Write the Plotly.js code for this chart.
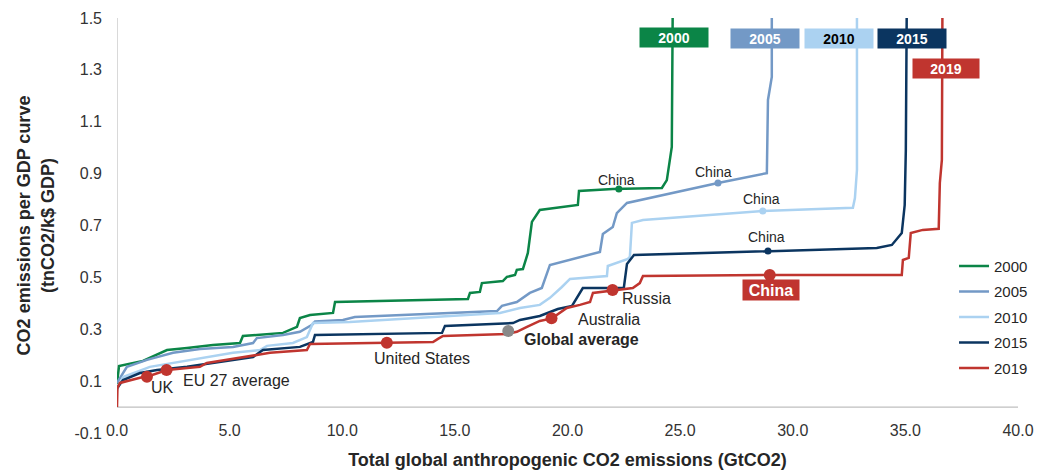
<!DOCTYPE html>
<html>
<head>
<meta charset="utf-8">
<script src="https://cdn.plot.ly/plotly-3.0.1.min.js"></script>
<style>
html,body{margin:0;padding:0;background:#fff;}
#chart{width:1048px;height:470px;}
</style>
</head>
<body>
<div id="chart"></div>
<script>
// ---- data: cumulative emissions (GtCO2) vs intensity (tnCO2/k$ GDP) ----
var x2000 = [0, 0.09, 1.15, 1.78, 2.22, 3.11, 4.26, 5.46, 5.59, 6.21, 7.37, 7.99, 8.12, 8.57, 9.59, 9.68, 15.58, 15.67, 16.11, 16.20, 17.13, 17.31, 17.67, 17.75, 18.02, 18.24, 18.42, 18.77, 20.46, 20.51, 22.01, 24.19, 24.41, 24.63, 24.68];
var y2000 = [0.09, 0.158, 0.178, 0.201, 0.220, 0.228, 0.239, 0.247, 0.274, 0.278, 0.286, 0.309, 0.343, 0.355, 0.363, 0.405, 0.417, 0.440, 0.444, 0.478, 0.486, 0.502, 0.509, 0.529, 0.532, 0.594, 0.714, 0.760, 0.779, 0.833, 0.841, 0.845, 0.875, 1.003, 1.65];

var x2005 = [0, 0.44, 1.33, 2.49, 3.68, 5.15, 6.04, 6.21, 7.37, 8.12, 8.66, 8.79, 10.03, 10.56, 16.87, 17.09, 17.75, 18.33, 18.86, 19.22, 21.44, 21.57, 22.01, 22.19, 22.64, 26.68, 28.85, 28.90, 29.07, 29.07];
var y2005 = [0.093, 0.155, 0.182, 0.209, 0.224, 0.232, 0.247, 0.266, 0.278, 0.290, 0.317, 0.330, 0.336, 0.347, 0.370, 0.390, 0.405, 0.440, 0.459, 0.548, 0.598, 0.667, 0.694, 0.748, 0.787, 0.864, 0.902, 1.184, 1.273, 1.65];

var x2010 = [0, 0.27, 1.46, 2.49, 3.68, 5.15, 6.35, 6.66, 7.81, 8.43, 8.70, 10.34, 17.00, 17.89, 18.77, 19.22, 19.75, 20.11, 21.75, 21.79, 22.68, 22.77, 22.86, 23.35, 28.67, 32.67, 32.76, 32.85, 32.85];
var y2010 = [0.066, 0.116, 0.155, 0.170, 0.189, 0.209, 0.220, 0.236, 0.247, 0.270, 0.324, 0.328, 0.363, 0.382, 0.394, 0.421, 0.463, 0.494, 0.505, 0.544, 0.571, 0.579, 0.710, 0.721, 0.756, 0.768, 0.806, 0.914, 1.65];

var x2015 = [0, 0.27, 1.02, 1.78, 3.11, 5.15, 6.04, 6.48, 8.12, 8.70, 8.79, 14.43, 14.56, 17.58, 17.89, 18.77, 19.57, 20.20, 20.42, 20.68, 22.50, 22.64, 22.95, 28.90, 33.73, 34.40, 34.84, 34.97, 35.02, 35.07];
var y2015 = [0.073, 0.104, 0.131, 0.143, 0.155, 0.182, 0.193, 0.220, 0.232, 0.251, 0.278, 0.286, 0.313, 0.324, 0.336, 0.351, 0.378, 0.390, 0.424, 0.459, 0.459, 0.552, 0.586, 0.602, 0.613, 0.625, 0.671, 0.779, 0.991, 1.65];

var x2019 = [0, 0.02, 0.13, 1.15, 1.33, 2.22, 3.68, 3.99, 4.88, 5.33, 6.79, 8.43, 8.57, 11.98, 14.03, 14.25, 14.47, 17.31, 17.75, 18.20, 18.77, 19.31, 19.66, 19.97, 20.55, 21.00, 21.13, 21.88, 22.01, 22.90, 23.21, 23.35, 28.98, 34.84, 34.89, 35.15, 35.24, 35.77, 36.48, 36.53, 36.62, 36.65];
var y2019 = [0.0, 0.074, 0.093, 0.116, 0.117, 0.143, 0.155, 0.170, 0.182, 0.189, 0.209, 0.220, 0.243, 0.248, 0.251, 0.263, 0.274, 0.282, 0.290, 0.309, 0.332, 0.342, 0.363, 0.382, 0.394, 0.405, 0.440, 0.448, 0.451, 0.459, 0.478, 0.505, 0.509, 0.509, 0.567, 0.575, 0.671, 0.683, 0.687, 0.864, 0.953, 1.65];

var years = ['2000', '2005', '2010', '2015', '2019'];
var colors = ['#0B8547', '#7399C6', '#ABD2F1', '#0B3560', '#C0352F'];

// China position on each year's curve (2000-2015, small dots)
var chinaX = [22.28, 26.68, 28.67, 28.90];
var chinaY = [0.841, 0.864, 0.756, 0.602];

// highlighted countries on the 2019 curve
var countryNames = ['UK', 'EU 27 average', 'United States', 'Australia', 'Russia', 'China'];
var countryX = [1.33, 2.20, 11.98, 19.29, 22.00, 28.98];
var countryY = [0.117, 0.143, 0.248, 0.342, 0.451, 0.509];

var globalAvgX = [17.37];
var globalAvgY = [0.293];

var xTicks = [0, 5, 10, 15, 20, 25, 30, 35, 40];
var yTicks = [-0.1, 0.1, 0.3, 0.5, 0.7, 0.9, 1.1, 1.3, 1.5];

// ---- traces ----
var FONT = 'Liberation Sans, Arial, sans-serif';
var xs = [x2000, x2005, x2010, x2015, x2019];
var ys = [y2000, y2005, y2010, y2015, y2019];
var traces = [];
for (var i = 0; i < years.length; i++) {
  traces.push({
    x: xs[i], y: ys[i], type: 'scatter', mode: 'lines', name: years[i],
    legendgroup: years[i],
    line: {color: colors[i], width: 2.5}, hoverinfo: 'skip'
  });
}
traces.push({
  x: chinaX, y: chinaY, type: 'scatter', mode: 'markers', showlegend: false,
  marker: {color: colors.slice(0, 4), size: 7}, hoverinfo: 'skip'
});
traces.push({
  x: countryX, y: countryY, type: 'scatter', mode: 'markers', showlegend: false,
  marker: {color: '#C0352F', size: 12}, hoverinfo: 'skip'
});
traces.push({
  x: globalAvgX, y: globalAvgY, type: 'scatter', mode: 'markers', showlegend: false,
  marker: {color: '#898989', size: 12}, hoverinfo: 'skip'
});

// ---- annotations ----
function lab(text, x, y, opts) {
  var a = {text: text, x: x, y: y, xref: 'x', yref: 'y', showarrow: false,
    font: {family: FONT, size: 16, color: '#262626'}, xanchor: 'center', yanchor: 'middle'};
  for (var k in opts) a[k] = opts[k];
  return a;
}
var annotations = [
  lab('UK', 2.04, 0.074),
  lab('EU 27 average', 2.84, 0.104, {xanchor: 'left'}),
  lab('United States', 13.54, 0.189),
  lab('<b>Global average</b>', 17.98, 0.259, {xanchor: 'left'}),
  lab('Australia', 21.84, 0.336),
  lab('Russia', 23.52, 0.417),
  lab('China', 22.19, 0.875, {font: {family: FONT, size: 14, color: '#262626'}}),
  lab('China', 26.50, 0.906, {font: {family: FONT, size: 14, color: '#262626'}}),
  lab('China', 28.63, 0.802, {font: {family: FONT, size: 14, color: '#262626'}}),
  lab('China', 28.85, 0.656, {font: {family: FONT, size: 14, color: '#262626'}}),
  lab('<b>China</b>', 29.03, 0.451, {font: {family: FONT, size: 16, color: '#ffffff'},
     bgcolor: '#C0352F', width: 56, height: 20, borderpad: 0}),
  // year tags
  lab('<b>2000</b>', 24.72, 1.425, {font: {family: FONT, size: 14, color: '#ffffff'}, bgcolor: colors[0], width: 68, height: 19, borderpad: 0}),
  lab('<b>2005</b>', 28.76, 1.421, {font: {family: FONT, size: 14, color: '#ffffff'}, bgcolor: colors[1], width: 68, height: 19, borderpad: 0}),
  lab('<b>2010</b>', 32.05, 1.421, {font: {family: FONT, size: 14, color: '#000000'}, bgcolor: colors[2], width: 68, height: 19, borderpad: 0}),
  lab('<b>2015</b>', 35.29, 1.421, {font: {family: FONT, size: 14, color: '#ffffff'}, bgcolor: colors[3], width: 68, height: 19, borderpad: 0}),
  lab('<b>2019</b>', 36.80, 1.305, {font: {family: FONT, size: 14, color: '#ffffff'}, bgcolor: colors[4], width: 66, height: 19, borderpad: 0})
];

var layout = {
  width: 1048, height: 470,
  margin: {l: 117, r: 30, t: 18, b: 37, pad: 0},
  paper_bgcolor: '#ffffff', plot_bgcolor: '#ffffff',
  font: {family: FONT, color: '#262626'},
  showlegend: true,
  legend: {
    x: 0.929, xanchor: 'left', y: 0.279, yanchor: 'middle',
    font: {family: FONT, size: 15, color: '#262626'},
    bgcolor: 'rgba(0,0,0,0)', tracegroupgap: 3, itemwidth: 30
  },
  xaxis: {
    range: [0, 40], tickvals: xTicks, ticktext: xTicks.map(function (v) { return v.toFixed(1); }),
    showgrid: false, zeroline: false, showline: false, ticks: '',
    tickfont: {family: FONT, size: 16, color: '#333333'},
    ticklabelstandoff: -14,
    title: {text: '<b>Total global anthropogenic CO2 emissions (GtCO2)</b>',
      font: {family: FONT, size: 18, color: '#262626'}, standoff: 15},
    automargin: false, fixedrange: true
  },
  yaxis: {
    range: [-0.1, 1.5], tickvals: yTicks, ticktext: yTicks.map(function (v) { return v.toFixed(1); }),
    showgrid: false, zeroline: false, showline: false, ticks: '',
    tickfont: {family: FONT, size: 16, color: '#333333'},
    ticklabelstandoff: 14,
    title: {text: '<b>CO2 emissions per GDP curve<br>(tnCO2/k$ GDP)</b>',
      font: {family: FONT, size: 18, color: '#262626'}, standoff: 15},
    automargin: false, fixedrange: true
  },
  shapes: [
    {type: 'line', xref: 'x', yref: 'y', x0: 0, x1: 0, y0: 0, y1: 1.5, line: {color: '#BFBFBF', width: 1.2}, layer: 'below'},
    {type: 'line', xref: 'x', yref: 'y', x0: 0, x1: 40, y0: 0, y1: 0, line: {color: '#BFBFBF', width: 1.2}, layer: 'below'}
  ],
  annotations: annotations
};

Plotly.newPlot('chart', traces, layout, {displayModeBar: false, staticPlot: true});
</script>
</body>
</html>
